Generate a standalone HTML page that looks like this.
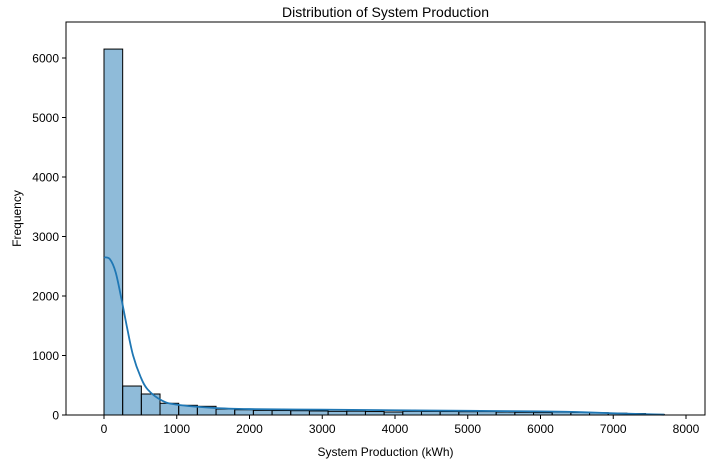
<!DOCTYPE html>
<html><head><meta charset="utf-8"><style>
body{margin:0;background:#fff;font-family:"Liberation Sans",sans-serif}
svg text{font-family:"Liberation Sans",sans-serif;fill:#000}
</style></head><body>
<svg id="chart" width="716" height="468" xmlns="http://www.w3.org/2000/svg">
<text x="385.5" y="17" text-anchor="middle" font-size="14">Distribution of System Production</text>
<g id="bars"></g>
<path id="kde" fill="none" stroke="#1f77b4" stroke-width="1.8"/>
<rect x="66" y="22" width="639" height="393" fill="none" stroke="#000" stroke-width="1"/>
<g id="xt"></g>
<g id="yt"></g>
<text x="385.5" y="456" text-anchor="middle" font-size="12">System Production (kWh)</text>
<text transform="translate(21,218.5) rotate(-90)" text-anchor="middle" font-size="12">Frequency</text>
</svg>
<script>
const binStart = 0;
const binWidth = 256.7;
const counts = [6150,487,353,197,163,146,100,88,78,75,72,68,62,65,58,50,62,60,58,55,57,50,45,40,48,42,38,30,25,10];
const kdeX = [0,80,160,240,320,400,500,600,800,1000,1500,2000,3000,4000,5000,6000,6500,7000,7700];
const kdeY = [2650,2620,2400,1950,1450,1000,650,430,240,175,120,100,90,80,70,60,50,30,5];
const xTicks = [0,1000,2000,3000,4000,5000,6000,7000,8000];
const yTicks = [0,1000,2000,3000,4000,5000,6000];
const NS="http://www.w3.org/2000/svg";
const sx=v=>104+v*0.07275;
const sy=v=>415-v*0.0595;
const bars=document.getElementById('bars');
counts.forEach((c,i)=>{
  const r=document.createElementNS(NS,'rect');
  const x0=sx(binStart+i*binWidth), x1=sx(binStart+(i+1)*binWidth);
  r.setAttribute('x',x0);r.setAttribute('y',sy(c));
  r.setAttribute('width',x1-x0);r.setAttribute('height',415-sy(c));
  r.setAttribute('fill','rgba(31,119,180,0.5)');r.setAttribute('stroke','#000');r.setAttribute('stroke-width','1');
  
  
  bars.appendChild(r);
});
const P=kdeX.map((x,i)=>[sx(x),sy(kdeY[i])]);
let d='M'+P[0][0]+','+P[0][1];
for(let i=0;i<P.length-1;i++){
  const p0=P[Math.max(0,i-1)],p1=P[i],p2=P[i+1],p3=P[Math.min(P.length-1,i+2)];
  const c1=[p1[0]+(p2[0]-p0[0])/6,p1[1]+(p2[1]-p0[1])/6];
  const c2=[p2[0]-(p3[0]-p1[0])/6,p2[1]-(p3[1]-p1[1])/6];
  d+='C'+c1+' '+c2+' '+p2;
}
document.getElementById('kde').setAttribute('d',d);
const xt=document.getElementById('xt');
xTicks.forEach(t=>{
  const l=document.createElementNS(NS,'line');
  l.setAttribute('x1',sx(t));l.setAttribute('x2',sx(t));l.setAttribute('y1',415);l.setAttribute('y2',419);l.setAttribute('stroke','#000');
  
  
  xt.appendChild(l);
  const tx=document.createElementNS(NS,'text');
  tx.setAttribute('x',sx(t));tx.setAttribute('y',433);tx.setAttribute('text-anchor','middle');tx.setAttribute('font-size','12');
  tx.textContent=t;
  
  
  xt.appendChild(tx);
});
const yt=document.getElementById('yt');
yTicks.forEach(t=>{
  const l=document.createElementNS(NS,'line');
  l.setAttribute('x1',62);l.setAttribute('x2',66);l.setAttribute('y1',sy(t));l.setAttribute('y2',sy(t));l.setAttribute('stroke','#000');
  
  
  yt.appendChild(l);
  const tx=document.createElementNS(NS,'text');
  tx.setAttribute('x',59);tx.setAttribute('y',sy(t)+4.5);tx.setAttribute('text-anchor','end');tx.setAttribute('font-size','12');
  tx.textContent=t;
  
  
  yt.appendChild(tx);
});
</script>
</body></html>
